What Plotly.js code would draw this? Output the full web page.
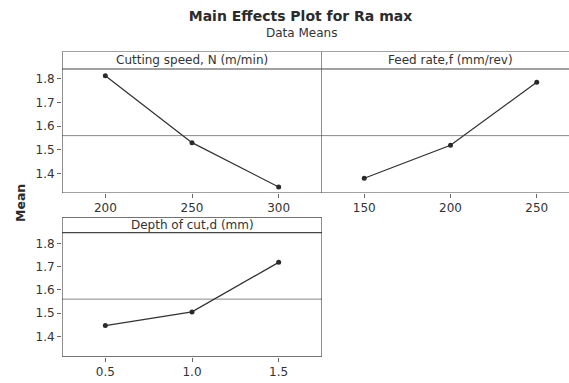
<!DOCTYPE html>
<html>
<head>
<meta charset="utf-8">
<script src="https://cdn.plot.ly/plotly-3.0.1.min.js"></script>
<style>html,body{margin:0;padding:0;background:#fff;overflow:hidden}</style>
</head>
<body>
<div id="chart" style="width:569px;height:383px"></div>
<script>
// ---- data ----
const speedLevels = [200, 250, 300];
const speedMeans = [1.814, 1.530, 1.342];
const feedLevels = [150, 200, 250];
const feedMeans = [1.379, 1.519, 1.786];
const depthLevels = [0.5, 1.0, 1.5];
const depthLabels = ['0.5', '1.0', '1.5'];
const depthMeans = [1.446, 1.505, 1.718];
const yTicks = [1.4, 1.5, 1.6, 1.7, 1.8];
const panelTitles = ['Cutting speed, N (m/min)', 'Feed rate,f (mm/rev)', 'Depth of cut,d (mm)'];
const allMeans = speedMeans.concat(feedMeans, depthMeans);
const grandMean = allMeans.reduce((a, b) => a + b, 0) / allMeans.length;

const FONT = 'DejaVu Sans';
const TXT = '#333333';
const BOX = '#444444';

function lineTrace(x, y, xa, ya) {
  return {
    x: x, y: y, xaxis: xa, yaxis: ya, type: 'scatter', mode: 'lines+markers',
    line: {color: '#333333', width: 1.3},
    marker: {color: '#2b2b2b', size: 5},
    hoverinfo: 'x+y', showlegend: false, cliponaxis: false
  };
}

const traces = [
  lineTrace(speedLevels, speedMeans, 'x', 'y'),
  lineTrace(feedLevels, feedMeans, 'x2', 'y'),
  lineTrace(depthLevels, depthMeans, 'x3', 'y3')
];

const W = 569, H = 383;
const px = v => v / W;
const py = v => (H - v) / H;

const y1Range = [1.3165, 1.9166], y1Head = 1.8424;
const y3Range = [1.3123, 1.9118], y3Head = 1.8456;
const x1Range = [175, 325], x2Range = [125.5, 268.7], x3Range = [0.25, 1.75];

const axisFont = {family: FONT, size: 12, color: TXT};
const baseX = {showgrid: false, zeroline: false, showline: false, ticks: 'outside', ticklen: 4,
  tickcolor: '#666666', tickwidth: 1, tickfont: axisFont, fixedrange: true};
const baseY = Object.assign({}, baseX, {tickvals: yTicks, ticktext: yTicks.map(v => v.toFixed(1)), ticklen: 4});

const boxLine = {color: BOX, width: 1.2};
const meanLine = {color: '#8a8a8a', width: 1};

const layout = {
  width: W, height: H,
  margin: {l: 0, r: 0, t: 0, b: 0},
  paper_bgcolor: '#ffffff', plot_bgcolor: '#ffffff',
  title: {text: '<b>Main Effects Plot for Ra max</b>', font: {family: FONT, size: 14, color: '#2b2b2b'},
    x: px(300.5), xanchor: 'center', xref: 'paper', y: 1 - 16 / H, yref: 'container', yanchor: 'middle'},
  xaxis: Object.assign({}, baseX, {domain: [px(62), px(322)], range: x1Range, anchor: 'y', tickvals: speedLevels}),
  xaxis2: Object.assign({}, baseX, {domain: [px(322), 1], range: x2Range, anchor: 'y', tickvals: feedLevels}),
  xaxis3: Object.assign({}, baseX, {domain: [px(62), px(322)], range: x3Range, anchor: 'y3', tickvals: depthLevels, ticktext: depthLabels}),
  yaxis: Object.assign({}, baseY, {domain: [py(193), py(51.5)], range: y1Range, anchor: 'x'}),
  yaxis3: Object.assign({}, baseY, {domain: [py(356.7), py(217.3)], range: y3Range, anchor: 'x3'}),
  annotations: [
    {text: 'Data Means', xref: 'paper', yref: 'paper', x: px(301), y: py(32.5), xanchor: 'center', yanchor: 'middle',
      showarrow: false, font: {family: FONT, size: 12, color: TXT}},
    {text: '<b>Mean</b>', xref: 'paper', yref: 'paper', x: px(20), y: py(203), xanchor: 'center', yanchor: 'middle',
      textangle: -90, showarrow: false, font: {family: FONT, size: 12.5, color: '#2b2b2b'}},
    {text: panelTitles[0], xref: 'x', yref: 'y', x: 250, y: (y1Head + y1Range[1]) / 2, yanchor: 'middle', showarrow: false, font: axisFont},
    {text: panelTitles[1], xref: 'x2', yref: 'y', x: 200, y: (y1Head + y1Range[1]) / 2, yanchor: 'middle', showarrow: false, font: axisFont},
    {text: panelTitles[2], xref: 'x3', yref: 'y3', x: 1.0, y: (y3Head + y3Range[1]) / 2, yanchor: 'middle', showarrow: false, font: axisFont}
  ],
  shapes: [
    // panel 1 box + header + mean
    {type: 'rect', xref: 'x', yref: 'y', x0: x1Range[0], x1: x1Range[1], y0: y1Range[0], y1: y1Range[1], line: boxLine},
    {type: 'line', xref: 'x', yref: 'y', x0: x1Range[0], x1: x1Range[1], y0: y1Head, y1: y1Head, line: boxLine},
    {type: 'line', xref: 'x', yref: 'y', x0: x1Range[0], x1: x1Range[1], y0: grandMean, y1: grandMean, line: meanLine, layer: 'below'},
    // panel 2 (right edge cropped)
    {type: 'line', xref: 'x2', yref: 'y', x0: x2Range[0], x1: x2Range[1], y0: y1Range[1], y1: y1Range[1], line: boxLine},
    {type: 'line', xref: 'x2', yref: 'y', x0: x2Range[0], x1: x2Range[1], y0: y1Range[0], y1: y1Range[0], line: boxLine},
    {type: 'line', xref: 'x2', yref: 'y', x0: x2Range[0], x1: x2Range[1], y0: y1Head, y1: y1Head, line: boxLine},
    {type: 'line', xref: 'x2', yref: 'y', x0: x2Range[0], x1: x2Range[1], y0: grandMean, y1: grandMean, line: meanLine, layer: 'below'},
    // panel 3
    {type: 'rect', xref: 'x3', yref: 'y3', x0: x3Range[0], x1: x3Range[1], y0: y3Range[0], y1: y3Range[1], line: boxLine},
    {type: 'line', xref: 'x3', yref: 'y3', x0: x3Range[0], x1: x3Range[1], y0: y3Head, y1: y3Head, line: boxLine},
    {type: 'line', xref: 'x3', yref: 'y3', x0: x3Range[0], x1: x3Range[1], y0: grandMean, y1: grandMean, line: meanLine, layer: 'below'}
  ]
};

Plotly.newPlot('chart', traces, layout, {staticPlot: true, displayModeBar: false});
</script>
</body>
</html>
